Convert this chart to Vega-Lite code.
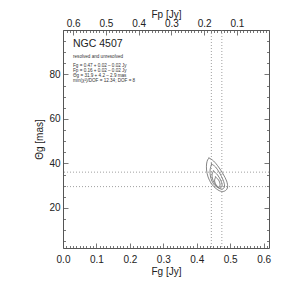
{
  "$schema": "https://vega.github.io/schema/vega-lite/v6.json",
  "width": 206,
  "height": 218,
  "autosize": {"type": "none"},
  "padding": {"left": 63, "top": 30, "right": 30, "bottom": 46},
  "background": "white",
  "config": {
    "view": {"stroke": null},
    "font": "Liberation Sans",
    "axis": {
      "labelFont": "Liberation Sans", "labelFontSize": 10, "labelColor": "#222",
      "titleFont": "Liberation Sans", "titleFontSize": 10, "titleFontWeight": "normal", "titleColor": "#222",
      "domainColor": "#555", "domainWidth": 1, "tickColor": "#555", "tickWidth": 0.8,
      "grid": false, "labelOverlap": false, "labelFlush": false, "labelBound": false
    }
  },
  "resolve": {"scale": {"x": "independent", "y": "independent"}, "axis": {"x": "independent", "y": "independent"}},
  "layer": [
    {
      "data": {"values": [
        {"c": 1, "i": 1, "fg": 0.4368, "th": 42.46},
        {"c": 1, "i": 2, "fg": 0.4503, "th": 41.11},
        {"c": 1, "i": 3, "fg": 0.4652, "th": 38.41},
        {"c": 1, "i": 4, "fg": 0.4787, "th": 35.27},
        {"c": 1, "i": 5, "fg": 0.4892, "th": 32.12},
        {"c": 1, "i": 6, "fg": 0.4922, "th": 29.42},
        {"c": 1, "i": 7, "fg": 0.4862, "th": 27.85},
        {"c": 1, "i": 8, "fg": 0.4742, "th": 27.40},
        {"c": 1, "i": 9, "fg": 0.4593, "th": 28.52},
        {"c": 1, "i": 10, "fg": 0.4443, "th": 30.77},
        {"c": 1, "i": 11, "fg": 0.4338, "th": 33.92},
        {"c": 1, "i": 12, "fg": 0.4293, "th": 37.06},
        {"c": 1, "i": 13, "fg": 0.4293, "th": 39.76},
        {"c": 1, "i": 14, "fg": 0.4323, "th": 41.56},
        {"c": 1, "i": 15, "fg": 0.4368, "th": 42.46},
        {"c": 2, "i": 1, "fg": 0.4443, "th": 39.76},
        {"c": 2, "i": 2, "fg": 0.4563, "th": 38.41},
        {"c": 2, "i": 3, "fg": 0.4683, "th": 35.72},
        {"c": 2, "i": 4, "fg": 0.4787, "th": 32.57},
        {"c": 2, "i": 5, "fg": 0.4832, "th": 29.87},
        {"c": 2, "i": 6, "fg": 0.4772, "th": 28.52},
        {"c": 2, "i": 7, "fg": 0.4652, "th": 28.97},
        {"c": 2, "i": 8, "fg": 0.4503, "th": 30.77},
        {"c": 2, "i": 9, "fg": 0.4413, "th": 33.92},
        {"c": 2, "i": 10, "fg": 0.4398, "th": 37.06},
        {"c": 2, "i": 11, "fg": 0.4443, "th": 39.76},
        {"c": 3, "i": 1, "fg": 0.4503, "th": 36.61},
        {"c": 3, "i": 2, "fg": 0.4623, "th": 34.82},
        {"c": 3, "i": 3, "fg": 0.4727, "th": 32.12},
        {"c": 3, "i": 4, "fg": 0.4757, "th": 29.87},
        {"c": 3, "i": 5, "fg": 0.4682, "th": 28.97},
        {"c": 3, "i": 6, "fg": 0.4563, "th": 30.32},
        {"c": 3, "i": 7, "fg": 0.4473, "th": 33.02},
        {"c": 3, "i": 8, "fg": 0.4458, "th": 35.27},
        {"c": 3, "i": 9, "fg": 0.4503, "th": 36.61},
        {"c": 4, "i": 1, "fg": 0.4563, "th": 33.92},
        {"c": 4, "i": 2, "fg": 0.4652, "th": 32.57},
        {"c": 4, "i": 3, "fg": 0.4697, "th": 30.77},
        {"c": 4, "i": 4, "fg": 0.4667, "th": 29.42},
        {"c": 4, "i": 5, "fg": 0.4593, "th": 30.10},
        {"c": 4, "i": 6, "fg": 0.4533, "th": 32.12},
        {"c": 4, "i": 7, "fg": 0.4563, "th": 33.92}
      ]},
      "mark": {"type": "line", "color": "#666", "strokeWidth": 0.8, "interpolate": "cardinal-closed"},
      "encoding": {
        "x": {"field": "fg", "type": "quantitative",
          "scale": {"domain": [0, 0.616], "nice": false, "zero": false},
          "axis": {"orient": "bottom", "title": "Fg [Jy]", "titlePadding": 0,
            "values": [0,0.01,0.02,0.03,0.04,0.05,0.06,0.07,0.08,0.09,0.1,0.11,0.12,0.13,0.14,0.15,0.16,0.17,0.18,0.19,0.2,0.21,0.22,0.23,0.24,0.25,0.26,0.27,0.28,0.29,0.3,0.31,0.32,0.33,0.34,0.35,0.36,0.37,0.38,0.39,0.4,0.41,0.42,0.43,0.44,0.45,0.46,0.47,0.48,0.49,0.5,0.51,0.52,0.53,0.54,0.55,0.56,0.57,0.58,0.59,0.6,0.61],
            "labelExpr": "abs(datum.value*10 - round(datum.value*10)) < 0.001 ? format(datum.value, '.1f') : ''",
            "tickSize": {"condition": {"test": "abs(datum.value*10 - round(datum.value*10)) < 0.001", "value": -5}, "value": -2.5},
            "labelPadding": 11}},
        "y": {"field": "th", "type": "quantitative",
          "scale": {"domain": [2, 100], "nice": false, "zero": false},
          "axis": {"orient": "left", "title": "Θg [mas]", "titlePadding": 4,
            "values": [5,10,15,20,25,30,35,40,45,50,55,60,65,70,75,80,85,90,95,100],
            "labelExpr": "datum.value % 20 == 0 && datum.value < 100 ? datum.label : ''",
            "tickSize": {"condition": {"test": "datum.value % 20 == 0", "value": -5}, "value": -2.5},
            "labelPadding": 8}},
        "detail": {"field": "c", "type": "nominal"},
        "order": {"field": "i", "type": "quantitative"}
      }
    },
    {
      "data": {"values": [{"fp": 0.178}, {"fp": 0.146}]},
      "mark": {"type": "rule", "color": "#888", "strokeWidth": 0.8, "strokeDash": [1, 2]},
      "encoding": {
        "x": {"field": "fp", "type": "quantitative",
          "scale": {"domain": [0.631, 0.002], "nice": false, "zero": false},
          "axis": {"orient": "top", "title": "Fp [Jy]", "titlePadding": -4,
            "values": [0.01,0.02,0.03,0.04,0.05,0.06,0.07,0.08,0.09,0.1,0.11,0.12,0.13,0.14,0.15,0.16,0.17,0.18,0.19,0.2,0.21,0.22,0.23,0.24,0.25,0.26,0.27,0.28,0.29,0.3,0.31,0.32,0.33,0.34,0.35,0.36,0.37,0.38,0.39,0.4,0.41,0.42,0.43,0.44,0.45,0.46,0.47,0.48,0.49,0.5,0.51,0.52,0.53,0.54,0.55,0.56,0.57,0.58,0.59,0.6,0.61,0.62,0.63],
            "labelExpr": "abs(datum.value*10 - round(datum.value*10)) < 0.001 ? format(datum.value, '.1f') : ''",
            "tickSize": {"condition": {"test": "abs(datum.value*10 - round(datum.value*10)) < 0.001", "value": -5}, "value": -2.5},
            "labelPadding": 7}}
      }
    },
    {
      "data": {"values": [{"th": 36.1}, {"th": 29.6}]},
      "mark": {"type": "rule", "color": "#888", "strokeWidth": 0.8, "strokeDash": [1, 2]},
      "encoding": {
        "y": {"field": "th", "type": "quantitative",
          "scale": {"domain": [2, 100], "nice": false, "zero": false},
          "axis": {"orient": "right", "title": null,
            "values": [5,10,15,20,25,30,35,40,45,50,55,60,65,70,75,80,85,90,95,100],
            "labels": false,
            "tickSize": {"condition": {"test": "datum.value % 20 == 0", "value": -5}, "value": -2.5}}}
      }
    },
    {
      "data": {"values": [{"fg": 0.03, "th": 93.7, "t": "NGC 4507"}]},
      "mark": {"type": "text", "align": "left", "baseline": "middle", "fontSize": 10.5, "color": "#222", "font": "Liberation Sans"},
      "encoding": {
        "x": {"field": "fg", "type": "quantitative", "scale": {"domain": [0, 0.616], "nice": false, "zero": false}, "axis": null},
        "y": {"field": "th", "type": "quantitative", "scale": {"domain": [2, 100], "nice": false, "zero": false}, "axis": null},
        "text": {"field": "t"}
      }
    },
    {
      "data": {"values": [
        {"fg": 0.03, "th": 88.0, "t": "resolved and unresolved"},
        {"fg": 0.03, "th": 83.8, "t": "Fg = 0.47 +  0.02 –  0.02 Jy"},
        {"fg": 0.03, "th": 81.6, "t": "Fp = 0.16 +  0.02 –  0.02 Jy"},
        {"fg": 0.03, "th": 79.3, "t": "Θg = 31.9 +  4.2 –  2.9 mas"},
        {"fg": 0.03, "th": 77.1, "t": "min(χ²)/DOF = 12.34; DOF =  8"}
      ]},
      "mark": {"type": "text", "align": "left", "baseline": "middle", "fontSize": 4.6, "color": "#333", "font": "Liberation Sans"},
      "encoding": {
        "x": {"field": "fg", "type": "quantitative", "scale": {"domain": [0, 0.616], "nice": false, "zero": false}, "axis": null},
        "y": {"field": "th", "type": "quantitative", "scale": {"domain": [2, 100], "nice": false, "zero": false}, "axis": null},
        "text": {"field": "t"}
      }
    }
  ]
}
